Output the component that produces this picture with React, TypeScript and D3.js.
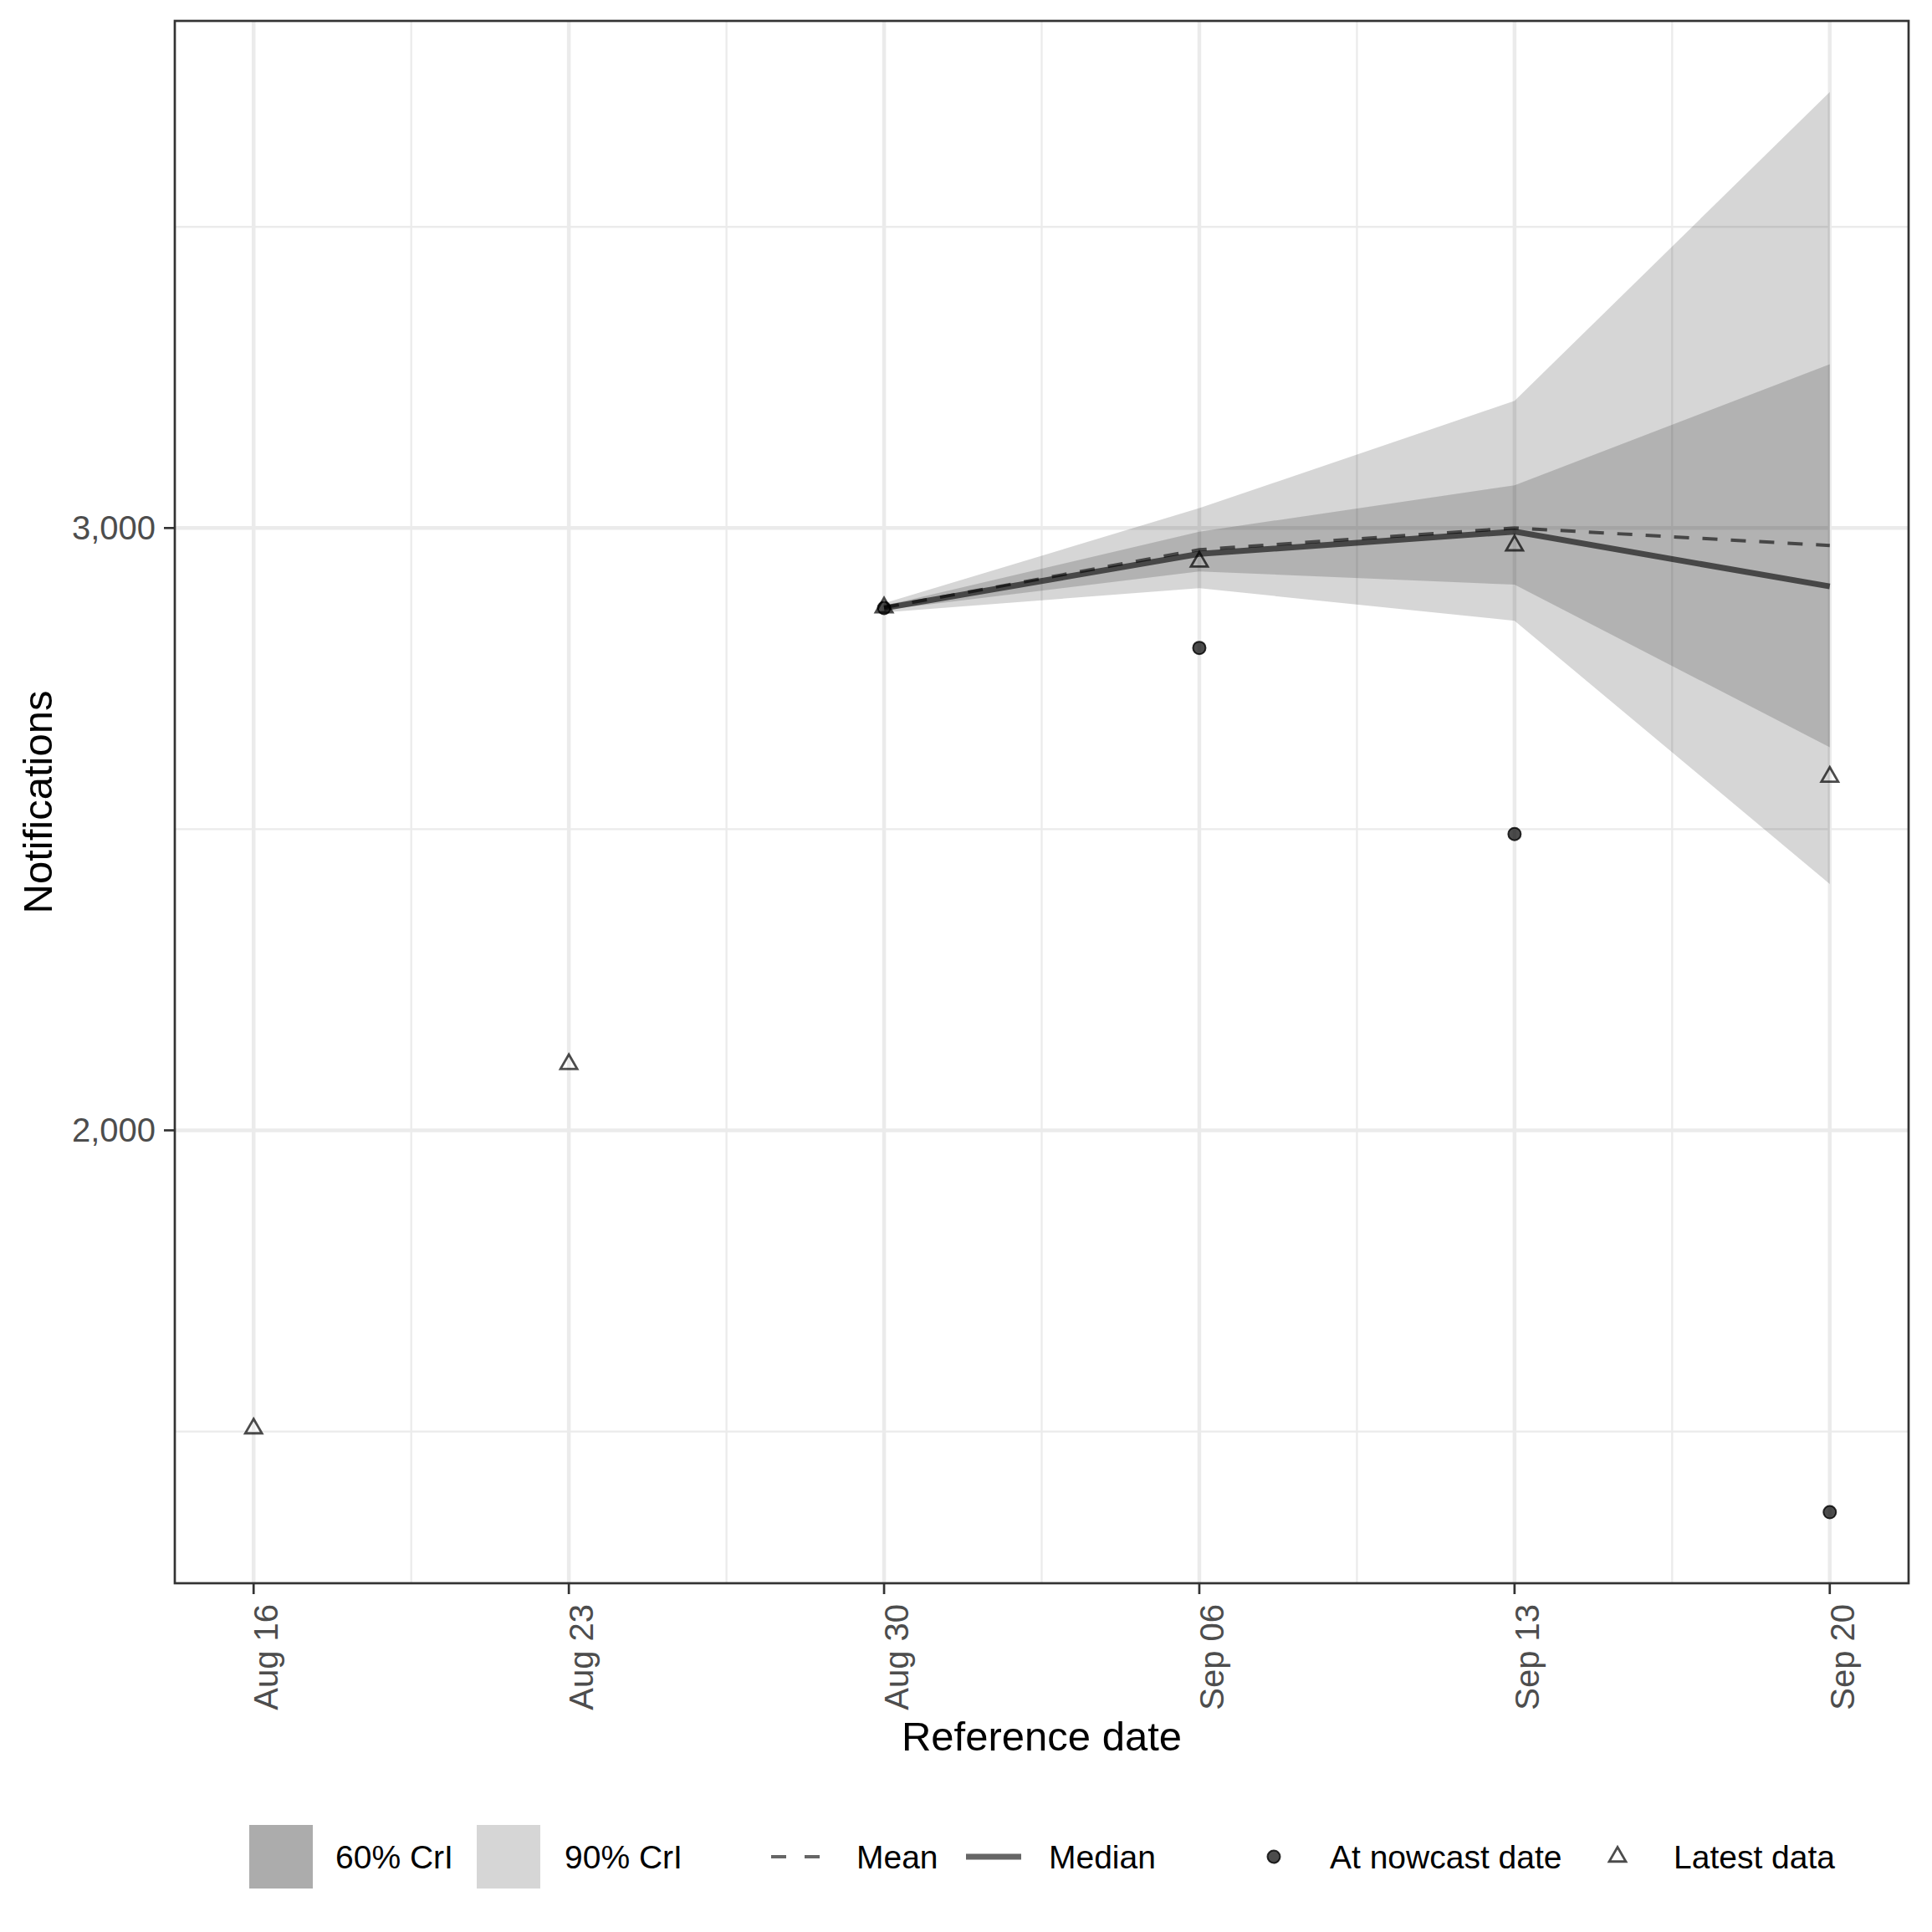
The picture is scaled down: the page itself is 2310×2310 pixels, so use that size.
import React from "react";
import * as d3 from "d3";

// latest observed notifications by reference date
const referenceDates = ["2021-08-16", "2021-08-23", "2021-08-30", "2021-09-06", "2021-09-13", "2021-09-20"];
const latestData = [1505, 2110, 2868, 2944, 2971, 2587];

// nowcast summaries
const nowcastDates = ["2021-08-30", "2021-09-06", "2021-09-13", "2021-09-20"];
const atNowcastDate = [2867, 2801, 2492, 1366];
const medianValues = [2867, 2957, 2994, 2903];
const meanValues = [2868, 2964, 3000, 2971];
const lower60 = [2864, 2928, 2906, 2636];
const upper60 = [2871, 2994, 3071, 3272];
const lower90 = [2860, 2900, 2846, 2409];
const upper90 = [2875, 3033, 3211, 3724];

const yBreaks = [1000, 2000, 3000, 4000];
const yMinorBreaks = [1500, 2500, 3500];

const W = 2310;
const H = 2310;
const panel = { left: 209, right: 2282, top: 25, bottom: 1893 };
const FONT = "'Liberation Sans', Arial, Helvetica, sans-serif";

const parse = d3.utcParse("%Y-%m-%d");
const fmtDate = d3.utcFormat("%b %d");
const fmtNum = d3.format(",");

const App = () => {
  const refDates = referenceDates.map((d) => parse(d) as Date);
  const ncDates = nowcastDates.map((d) => parse(d) as Date);

  const x0 = refDates[0].getTime();
  const x1 = refDates[refDates.length - 1].getTime();
  const xPad = (x1 - x0) * 0.05;
  const x = d3
    .scaleUtc()
    .domain([new Date(x0 - xPad), new Date(x1 + xPad)])
    .range([panel.left, panel.right]);

  const allY = [...latestData, ...atNowcastDate, ...lower90, ...upper90];
  const [yMin, yMax] = d3.extent(allY) as [number, number];
  const yPad = (yMax - yMin) * 0.05;
  const y = d3
    .scaleLinear()
    .domain([yMin - yPad, yMax + yPad])
    .range([panel.bottom, panel.top]);

  const inY = (v: number) => v >= y.domain()[0] && v <= y.domain()[1];
  const xMinor = refDates.slice(1).map((d, i) => new Date((d.getTime() + refDates[i].getTime()) / 2));

  const area = (lo: number[], hi: number[]) =>
    d3
      .area<number>()
      .x((i) => x(ncDates[i]))
      .y0((i) => y(lo[i]))
      .y1((i) => y(hi[i]))(d3.range(ncDates.length)) as string;

  const line = (vals: number[]) =>
    d3
      .line<number>()
      .x((i) => x(ncDates[i]))
      .y((i) => y(vals[i]))(d3.range(ncDates.length)) as string;

  const tri = (cx: number, cy: number, s: number) => {
    const h = s * 0.866;
    return `M${cx},${cy - (2 * h) / 3}L${cx + s / 2},${cy + h / 3}L${cx - s / 2},${cy + h / 3}Z`;
  };

  const legendY = 2220;
  const legendText = (tx: number, label: string) => (
    <text x={tx} y={legendY + 14} fontSize={39} fill="#000">
      {label}
    </text>
  );

  const dot = (cx: number, cy: number, key?: string) => (
    <circle
      key={key}
      cx={cx}
      cy={cy}
      r={7.5}
      fill="#000"
      fillOpacity={0.7}
      stroke="#000"
      strokeOpacity={0.8}
      strokeWidth={2}
    />
  );

  return (
    <svg
      width={W}
      height={H}
      style={{ position: "absolute", left: 0, top: 0, background: "#fff" }}
      fontFamily={FONT}
    >
      <rect x={0} y={0} width={W} height={H} fill="#fff" />
      <defs>
        <clipPath id="panel-clip">
          <rect x={panel.left} y={panel.top} width={panel.right - panel.left} height={panel.bottom - panel.top} />
        </clipPath>
      </defs>

      {/* grid */}
      <g clipPath="url(#panel-clip)">
        {yMinorBreaks.filter(inY).map((v) => (
          <line key={"ym" + v} x1={panel.left} x2={panel.right} y1={y(v)} y2={y(v)} stroke="#ebebeb" strokeWidth={2.3} />
        ))}
        {xMinor.map((d, i) => (
          <line key={"xm" + i} x1={x(d)} x2={x(d)} y1={panel.top} y2={panel.bottom} stroke="#ebebeb" strokeWidth={2.3} />
        ))}
        {yBreaks.filter(inY).map((v) => (
          <line key={"y" + v} x1={panel.left} x2={panel.right} y1={y(v)} y2={y(v)} stroke="#ebebeb" strokeWidth={4.5} />
        ))}
        {refDates.map((d, i) => (
          <line key={"x" + i} x1={x(d)} x2={x(d)} y1={panel.top} y2={panel.bottom} stroke="#ebebeb" strokeWidth={4.5} />
        ))}

        {/* credible intervals */}
        <path d={area(lower90, upper90)} fill="#000" fillOpacity={0.16} />
        <path d={area(lower60, upper60)} fill="#000" fillOpacity={0.165} />

        {/* median and mean */}
        <path d={line(medianValues)} fill="none" stroke="#000" strokeOpacity={0.6} strokeWidth={7} />
        <path
          d={line(meanValues)}
          fill="none"
          stroke="#000"
          strokeOpacity={0.6}
          strokeWidth={4}
          strokeDasharray="18,16"
        />

        {/* points */}
        {atNowcastDate.map((v, i) => dot(x(ncDates[i]), y(v), "n" + i))}
        {latestData.map((v, i) => (
          <path
            key={"l" + i}
            d={tri(x(refDates[i]), y(v), 20)}
            fill="none"
            stroke="#000"
            strokeOpacity={0.7}
            strokeWidth={2.8}
          />
        ))}
      </g>

      {/* panel border */}
      <rect
        x={panel.left}
        y={panel.top}
        width={panel.right - panel.left}
        height={panel.bottom - panel.top}
        fill="none"
        stroke="#333"
        strokeWidth={2.7}
      />

      {/* y axis */}
      {yBreaks.filter(inY).map((v) => (
        <g key={"yt" + v}>
          <line x1={panel.left - 13} x2={panel.left} y1={y(v)} y2={y(v)} stroke="#333" strokeWidth={2.7} />
          <text x={panel.left - 23} y={y(v) + 14} textAnchor="end" fontSize={40} fill="#4d4d4d">
            {fmtNum(v)}
          </text>
        </g>
      ))}
      <text
        transform={`translate(62, ${(panel.top + panel.bottom) / 2}) rotate(-90)`}
        textAnchor="middle"
        fontSize={49}
        fill="#000"
      >
        Notifications
      </text>

      {/* x axis */}
      {refDates.map((d, i) => (
        <g key={"xt" + i}>
          <line x1={x(d)} x2={x(d)} y1={panel.bottom} y2={panel.bottom + 13} stroke="#333" strokeWidth={2.7} />
          <text
            transform={`translate(${x(d) + 29}, ${panel.bottom + 25}) rotate(-90)`}
            textAnchor="end"
            fontSize={40}
            fill="#4d4d4d"
          >
            {fmtDate(d)}
          </text>
        </g>
      ))}
      <text x={(panel.left + panel.right) / 2} y={2093} textAnchor="middle" fontSize={49} fill="#000">
        Reference date
      </text>

      {/* legend */}
      <rect x={298} y={legendY - 38} width={76} height={76} fill="#acacac" />
      {legendText(401, "60% CrI")}
      <rect x={570} y={legendY - 38} width={76} height={76} fill="#d6d6d6" />
      {legendText(675, "90% CrI")}
      <line
        x1={922}
        x2={992}
        y1={legendY}
        y2={legendY}
        stroke="#000"
        strokeOpacity={0.6}
        strokeWidth={4}
        strokeDasharray="18,22"
      />
      {legendText(1024, "Mean")}
      <line x1={1155} x2={1221} y1={legendY} y2={legendY} stroke="#000" strokeOpacity={0.6} strokeWidth={7} />
      {legendText(1254, "Median")}
      {dot(1523, legendY)}
      {legendText(1590, "At nowcast date")}
      <path d={tri(1934, legendY, 20)} fill="none" stroke="#000" strokeOpacity={0.7} strokeWidth={2.8} />
      {legendText(2001, "Latest data")}
    </svg>
  );
};

export default App;
